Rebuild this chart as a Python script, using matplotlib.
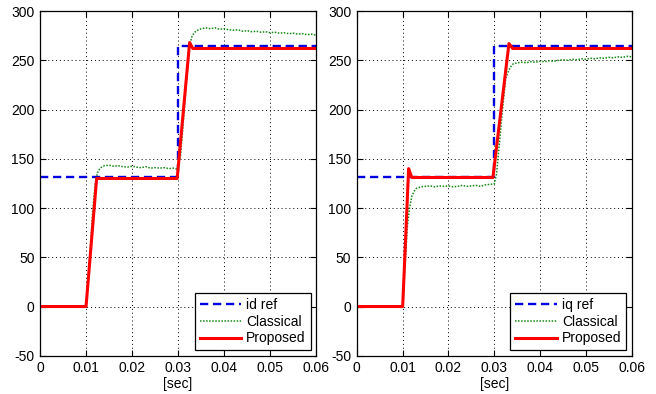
import matplotlib
matplotlib.use("Agg")
import matplotlib.pyplot as plt

# ---- data ----
ref_t = [0, 0.03, 0.03, 0.06]
ref_v = [132, 132, 264, 264]

# left panel (id)
id_prop_t = [0, 0.01, 0.0123, 0.0298, 0.0325, 0.0332, 0.06]
id_prop_v = [0, 0, 130, 130, 268, 262, 262]

id_cls_t = [0, 0.01, 0.0105, 0.011, 0.0115, 0.012, 0.0125, 0.013, 0.0135, 0.014,
            0.015, 0.016, 0.017, 0.018, 0.019, 0.020, 0.021, 0.022, 0.023, 0.024,
            0.025, 0.026, 0.027, 0.028, 0.029, 0.0298, 0.0305, 0.031, 0.0315,
            0.032, 0.0325, 0.033, 0.0335, 0.034, 0.035, 0.036, 0.037, 0.038,
            0.039, 0.040, 0.041, 0.042, 0.043, 0.044, 0.045, 0.046, 0.047, 0.048,
            0.049, 0.050, 0.051, 0.052, 0.053, 0.054, 0.055, 0.056, 0.057, 0.058,
            0.059, 0.060]
id_cls_v = [0, 0, 30, 65, 100, 125, 136, 140, 142, 143,
            143.5, 142.5, 143, 142, 141.5, 142.5, 141.5, 141, 142, 140.5,
            141, 140.5, 141, 140, 140.5, 139.5, 152, 180, 210,
            240, 265, 274, 278, 280, 282, 283, 282, 283,
            281.5, 282, 281, 280.5, 281, 279.5, 280, 279, 279.5, 278.5,
            279, 278, 278.5, 277.5, 278, 277, 277.5, 276.5, 277, 276,
            276.5, 275.5]

# right panel (iq)
iq_prop_t = [0, 0.01, 0.0113, 0.0116, 0.012, 0.0297, 0.0332, 0.034, 0.06]
iq_prop_v = [0, 0, 140, 136, 131, 131, 267, 262, 262]

iq_cls_t = [0, 0.01, 0.0105, 0.011, 0.0115, 0.012, 0.0125, 0.013, 0.014, 0.015,
            0.016, 0.017, 0.018, 0.019, 0.020, 0.021, 0.022, 0.023, 0.024, 0.025,
            0.026, 0.027, 0.028, 0.029, 0.030, 0.0305, 0.031, 0.0315, 0.032,
            0.0325, 0.033, 0.0335, 0.034, 0.035, 0.036, 0.037, 0.038, 0.039,
            0.040, 0.041, 0.042, 0.043, 0.044, 0.045, 0.046, 0.047, 0.048, 0.049,
            0.050, 0.051, 0.052, 0.053, 0.054, 0.055, 0.056, 0.057, 0.058, 0.059,
            0.060]
iq_cls_v = [0, 0, 40, 80, 100, 112, 117, 120, 121.5, 122,
            122.5, 121.5, 122.5, 122, 122.5, 121.5, 122, 123, 122, 122.5,
            123, 122, 123.5, 124, 124.5, 135, 160, 185, 210,
            232, 238, 243, 246, 247.5, 248, 247.5, 248.5, 248,
            249, 248.5, 249.5, 249, 250, 250.5, 250, 251, 250.5, 251.5,
            251, 252, 251.5, 252.5, 252, 253, 252.5, 253.5, 253, 254,
            253.5]

xticks = [0, 0.01, 0.02, 0.03, 0.04, 0.05, 0.06]
xtick_labels = ["0", "0.01", "0.02", "0.03", "0.04", "0.05", "0.06"]
yticks = [-50, 0, 50, 100, 150, 200, 250, 300]

plt.rcParams['font.family'] = ['Liberation Sans', 'DejaVu Sans']
plt.rcParams['axes.unicode_minus'] = False

fig = plt.figure(figsize=(6.56, 3.94), dpi=100)
ax1 = fig.add_axes([0.061, 0.097, 0.421, 0.875])
ax2 = fig.add_axes([0.544, 0.097, 0.419, 0.875])

panels = [
    (ax1, id_cls_t, id_cls_v, id_prop_t, id_prop_v, "id ref"),
    (ax2, iq_cls_t, iq_cls_v, iq_prop_t, iq_prop_v, "iq ref"),
]

for ax, ct, cv, pt, pv, ref_name in panels:
    ax.plot(ref_t, ref_v, color='#0000e0', linestyle=(0, (3.5, 2)), lw=1.7, label=ref_name)
    ax.plot(ct, cv, color='#138a13', linestyle=(0, (1, 1)), lw=1.1, label='Classical')
    ax.plot(pt, pv, color='#ff0000', linestyle='-', lw=2.2, label='Proposed')
    ax.set_xlim(0, 0.06)
    ax.set_ylim(-50, 300)
    ax.set_xticks(xticks)
    ax.set_xticklabels(xtick_labels)
    ax.set_yticks(yticks)
    ax.tick_params(direction='in', length=4, top=True, right=True,
                   labelsize=10, pad=4, color='black')
    ax.grid(True, color='black', linestyle=(0, (1, 3)), lw=0.7)
    for s in ax.spines.values():
        s.set_linewidth(0.9)
        s.set_color('black')
    ax.set_xlabel('[sec]', fontsize=10, labelpad=1)
    leg = ax.legend(loc='lower right', fontsize=10, fancybox=False, framealpha=1,
                    edgecolor='black', handlelength=3.0, borderaxespad=0.4,
                    labelspacing=0.2, handletextpad=0.35, borderpad=0.35)
    leg.get_frame().set_linewidth(0.9)

fig.savefig('out.png', dpi=100)
